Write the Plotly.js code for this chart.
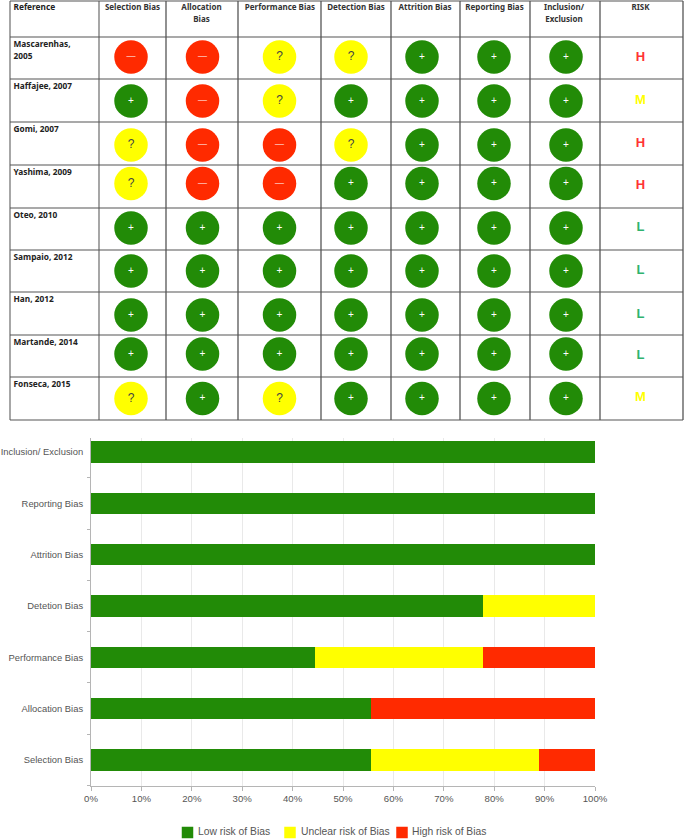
<!DOCTYPE html>
<html>
<head>
<meta charset="utf-8">
<script src="https://cdn.plot.ly/plotly-3.0.1.min.js"></script>
<style>html,body{margin:0;padding:0;background:#fff}#c{width:685px;height:840px}</style>
</head>
<body>
<div id="c"></div>
<script>
// ---------- Data ----------
const studies = ["Mascarenhas,|2005","Haffajee, 2007","Gomi, 2007","Yashima, 2009","Oteo, 2010","Sampaio, 2012","Han, 2012","Martande, 2014","Fonseca, 2015"];
const domains = ["Selection Bias","Allocation|Bias","Performance Bias","Detection Bias","Attrition Bias","Reporting Bias","Inclusion/|Exclusion","RISK"];
const selectionRatings   = ["-","+","?","?","+","+","+","+","?"];
const allocationRatings  = ["-","-","-","-","+","+","+","+","+"];
const performanceRatings = ["?","?","-","-","+","+","+","+","?"];
const detectionRatings   = ["?","+","?","+","+","+","+","+","+"];
const attritionRatings   = ["+","+","+","+","+","+","+","+","+"];
const reportingRatings   = ["+","+","+","+","+","+","+","+","+"];
const inclusionRatings   = ["+","+","+","+","+","+","+","+","+"];
const overallRisk = ["H","M","H","H","L","L","L","L","M"];

const barCategories = ["Selection Bias","Allocation Bias","Performance Bias","Detetion Bias","Attrition Bias","Reporting Bias","Inclusion/ Exclusion"];
const lowRisk     = [55.6,55.6,44.4,77.8,100,100,100];
const unclearRisk = [33.3,0,33.3,22.2,0,0,0];
const highRisk    = [11.1,44.4,22.3,0,0,0,0];
const seriesNames = ["Low risk of Bias","Unclear risk of Bias","High risk of Bias"];

// ---------- Layout constants (table geometry, in figure pixels) ----------
const W = 685, H = 840;
const colEdges = [10,99,166,238,321,391,460,530,600,683];
const rowEdges = [1,37,79,122,165,208,250,292,335,377,420];
const colCenters = [131,202.5,279.5,351,422,494,566];
const rowCenters = [57,101,145,183.5,228,271,315,354,398.5];
const headCenters = [132.5,201.5,280,356,425,494.5,564,640.5];
const riskX = 640.5;
const riskRow = [58,101,144,186,228,271,315,356,398];
const swatchX = [187.5,290,402];
const legendTextX = [198,301,412];
const legendY = 832.5;
const GREEN = "#228B07", YELLOW = "#FFFF00", RED = "#FF2A00";
const seriesColors = [GREEN,YELLOW,RED];
const fill = {"+":GREEN,"?":YELLOW,"-":RED};
const glyph = {"+":"+","?":"?","-":"\u2014"};
const riskColor = {H:"#FF3333",M:"#FFFF00",L:"#2FB36E"};
const headFont = {family:"Noto Sans, Open Sans, sans-serif",size:8,weight:700,color:"#333"};
const nameFont = {family:"Noto Sans, Open Sans, sans-serif",size:8.3,weight:700,color:"#222"};
const sans = "Liberation Sans, Arial, sans-serif";

const ratings = [selectionRatings,allocationRatings,performanceRatings,detectionRatings,attritionRatings,reportingRatings,inclusionRatings];

const traces = [];
const tableAxes = {xaxis:"x2",yaxis:"y2",showlegend:false,hoverinfo:"skip"};
// stacked bars
[lowRisk,unclearRisk,highRisk].forEach((vals,i)=>{
  traces.push({type:"bar",orientation:"h",name:seriesNames[i],y:barCategories,x:vals,width:0.42,
    marker:{color:seriesColors[i],line:{width:0}},xaxis:"x",yaxis:"y",showlegend:false,hoverinfo:"x+y"});
});
// rating circles
["+","?","-"].forEach(r=>{
  const xs=[],ys=[],tx=[];
  ratings.forEach((col,c)=>col.forEach((v,s)=>{ if(v===r){xs.push(colCenters[c]);ys.push(rowCenters[s]);tx.push(glyph[r]);} }));
  traces.push(Object.assign({type:"scatter",mode:"markers+text",x:xs,y:ys,text:tx,textposition:"middle center",
    textfont:{family:sans,size:r==="?"?12:(r==="-"?9:10),color:r==="?"?"#444":"#fff"},
    marker:{size:33.5,color:fill[r],line:{width:0}}},tableAxes));
});
// study names (each line placed on its own row of text)
const nameX=[],nameY=[],nameT=[];
studies.forEach((s,i)=>s.split("|").forEach((line,k)=>{
  nameX.push(13.5);nameY.push(rowEdges[i+1]+7.5+k*12);nameT.push(line);
}));
nameX.push(13.5);nameY.push(8);nameT.push("Reference");
traces.push(Object.assign({type:"scatter",mode:"text",x:nameX,y:nameY,text:nameT,textposition:"middle right",textfont:nameFont},tableAxes));
// column heads
const headX=[],headY=[],headT=[];
domains.forEach((d,i)=>d.split("|").forEach((line,k)=>{
  headX.push(headCenters[i]);headY.push(8+k*12.3);headT.push(line);
}));
traces.push(Object.assign({type:"scatter",mode:"text",x:headX,y:headY,text:headT,textposition:"middle center",textfont:headFont},tableAxes));
// risk letters
traces.push(Object.assign({type:"scatter",mode:"text",x:overallRisk.map(()=>riskX),y:riskRow,text:overallRisk,textposition:"middle center",
  textfont:{family:sans,size:13,weight:700,color:overallRisk.map(r=>riskColor[r])}},tableAxes));
// key below the bars
traces.push(Object.assign({type:"scatter",mode:"markers",x:swatchX,y:seriesNames.map(()=>legendY),
  marker:{symbol:"square",size:11.5,color:seriesColors,line:{width:0}}},tableAxes));
traces.push(Object.assign({type:"scatter",mode:"text",x:legendTextX,y:seriesNames.map(()=>legendY),text:seriesNames,textposition:"middle right",
  textfont:{family:sans,size:10.3,color:"#555"}},tableAxes));

const shapes = [];
colEdges.forEach((x,i)=>shapes.push({type:"line",xref:"x2",yref:"y2",x0:x,x1:x,y0:rowEdges[0],y1:rowEdges[10],
  line:{color:(i===0||i===1)?"#777":"#555",width:1.3},layer:"below"}));
rowEdges.forEach(y=>shapes.push({type:"line",xref:"x2",yref:"y2",x0:colEdges[0],x1:colEdges[9],y0:y,y1:y,
  line:{color:"#555",width:1.2},layer:"below"}));

const layout = {
  width:W,height:H,margin:{l:0,r:0,t:0,b:0},paper_bgcolor:"#fff",plot_bgcolor:"rgba(0,0,0,0)",
  barmode:"stack",showlegend:false,
  font:{family:sans,size:10,color:"#555"},
  xaxis:{domain:[91/W,595/W],anchor:"y",range:[0,100],dtick:10,ticksuffix:"%",showgrid:true,gridcolor:"#e9e9e9",gridwidth:1,
    zeroline:false,showline:true,linecolor:"#b5b5b5",ticks:"outside",ticklen:4,tickcolor:"#b5b5b5",
    tickfont:{family:sans,size:9.6,color:"#555"},fixedrange:true},
  yaxis:{domain:[1-785.5/H,1-438/H],anchor:"x",type:"category",categoryorder:"array",categoryarray:barCategories,
    range:[-0.5,6.275],tickson:"boundaries",ticks:"outside",ticklen:3,tickcolor:"#b5b5b5",showline:true,linecolor:"#b5b5b5",
    showgrid:false,zeroline:false,tickfont:{family:sans,size:9.4,color:"#555"},ticklabelstandoff:5,fixedrange:true},
  xaxis2:{domain:[0,1],anchor:"y2",range:[0,W],visible:false,fixedrange:true},
  yaxis2:{domain:[0,1],anchor:"x2",range:[H,0],visible:false,fixedrange:true},
  shapes:shapes
};
Plotly.newPlot("c",traces,layout,{displayModeBar:false,staticPlot:true});
</script>
</body>
</html>
